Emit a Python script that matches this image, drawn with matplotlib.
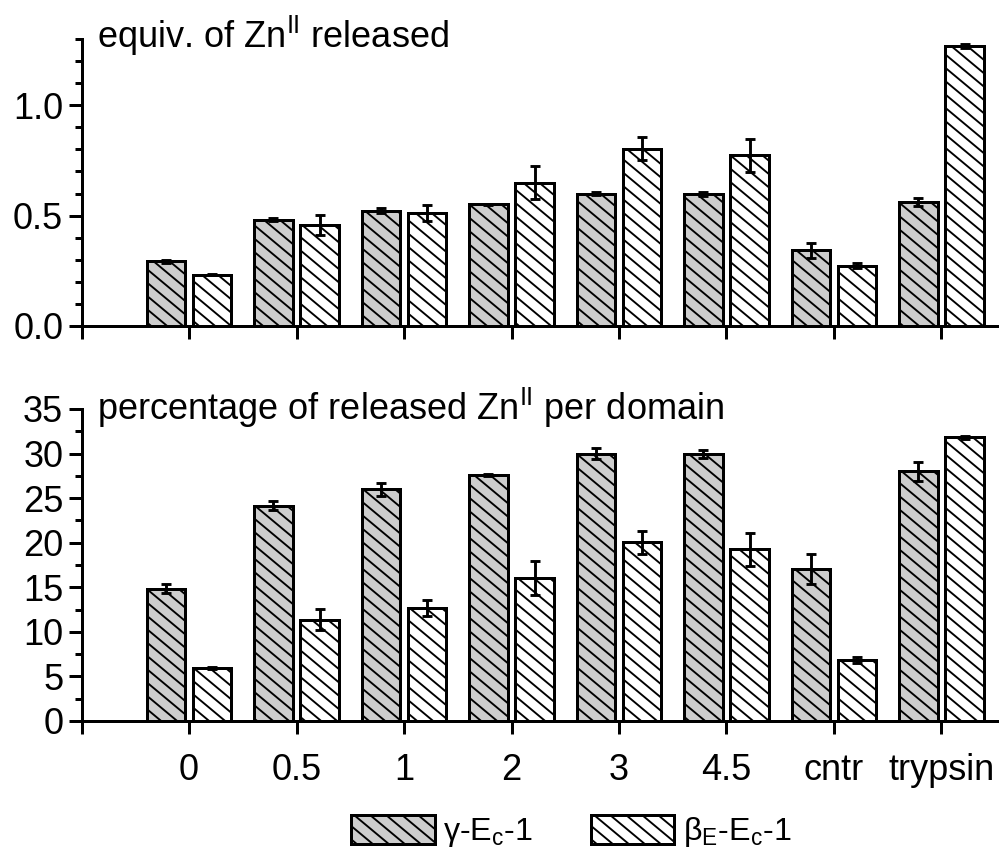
import matplotlib
matplotlib.use("Agg")
import matplotlib.pyplot as plt
import matplotlib.hatch as mhatch
from matplotlib.path import Path
from matplotlib.ticker import MultipleLocator, FormatStrFormatter, FixedLocator
import numpy as np

categories = ['0', '0.5', '1', '2', '3', '4.5', 'cntr', 'trypsin']
top_gamma = [0.293, 0.482, 0.523, 0.551, 0.600, 0.597, 0.342, 0.561]
top_gamma_err = [0.008, 0.007, 0.010, 0.003, 0.008, 0.008, 0.033, 0.018]
top_beta = [0.233, 0.457, 0.511, 0.649, 0.803, 0.774, 0.274, 1.268]
top_beta_err = [0.003, 0.045, 0.035, 0.075, 0.053, 0.075, 0.012, 0.008]
bot_gamma = [14.84, 24.13, 25.98, 27.6, 30.0, 29.94, 17.04, 28.0]
bot_gamma_err = [0.5, 0.5, 0.7, 0.1, 0.6, 0.45, 1.7, 1.1]
bot_beta = [5.9, 11.37, 12.72, 16.07, 20.06, 19.24, 6.82, 31.8]
bot_beta_err = [0.1, 1.2, 0.9, 1.9, 1.3, 1.9, 0.3, 0.2]
legend_labels = [r'γ-E$_\mathregular{c}$-1', r'β$_\mathregular{E}$-E$_\mathregular{c}$-1']
top_title = r'equiv. of Zn$^\mathregular{II}$ released'
bot_title = r'percentage of released Zn$^\mathregular{II}$ per domain'


# Shallower "\" hatch (slope m/n) that still tiles seamlessly
class ShallowSouthEastHatch(mhatch.HatchPatternBase):
    M = 5

    def __init__(self, hatch, density):
        self.n = int(hatch.count('\\') * density)
        if self.n:
            self.num_lines = self.n + self.M + 1
            self.num_vertices = self.num_lines * 2
        else:
            self.num_lines = 0
            self.num_vertices = 0

    def set_vertices_and_codes(self, vertices, codes):
        n, m = self.n, self.M
        c = np.arange(self.num_lines) / n
        vertices[0::2, 0] = 0.0
        vertices[0::2, 1] = c
        vertices[1::2, 0] = 1.0
        vertices[1::2, 1] = c - m / n
        codes[0::2] = Path.MOVETO
        codes[1::2] = Path.LINETO


mhatch._hatch_types = [ShallowSouthEastHatch if t is mhatch.SouthEastHatch else t
                       for t in mhatch._hatch_types]

DPI = 80
plt.rcParams['font.family'] = ['Liberation Sans', 'DejaVu Sans']
plt.rcParams['mathtext.fontset'] = 'custom'
plt.rcParams['mathtext.rm'] = 'Liberation Sans'
plt.rcParams['mathtext.it'] = 'Liberation Sans:italic'
plt.rcParams['hatch.linewidth'] = 1.7
FS = 32.5
LFS = 29
LW = 2.7

fig = plt.figure(figsize=(999 / DPI, 859 / DPI), dpi=DPI)
ax1 = fig.add_axes([0.0816, 0.6205, 0.9184, 0.3341])
ax2 = fig.add_axes([0.0816, 0.1607, 0.9184, 0.3632])

x = np.arange(1, len(categories) + 1)
w = 0.36
off = 0.215
gray = '#cdcdcd'
ekw = dict(ecolor='black', elinewidth=2.6, capsize=4.2, capthick=2.6, zorder=5)


def draw(ax, g, ge, b, be, ymax, major, minor, fmt, title, ytitle):
    bg = ax.bar(x - off, g, w, yerr=ge, color=gray, edgecolor='black',
                linewidth=LW, hatch='\\', error_kw=ekw, label=legend_labels[0])
    bb = ax.bar(x + off, b, w, yerr=be, color='white', edgecolor='black',
                linewidth=LW, hatch='\\', error_kw=ekw, label=legend_labels[1])
    ax.set_xlim(0, 8.535)
    ax.set_ylim(0, ymax)
    ax.spines['top'].set_visible(False)
    ax.spines['right'].set_visible(False)
    for s in ('left', 'bottom'):
        ax.spines[s].set_linewidth(LW)
    ax.yaxis.set_major_locator(MultipleLocator(major))
    ax.yaxis.set_minor_locator(MultipleLocator(minor))
    ax.yaxis.set_major_formatter(FormatStrFormatter(fmt))
    ax.xaxis.set_major_locator(FixedLocator(list(np.arange(0, len(categories) + 1))))
    ax.tick_params(axis='both', which='major', direction='out', length=11.5,
                   width=LW, labelsize=FS, pad=5)
    ax.tick_params(axis='y', which='minor', direction='out', length=6, width=LW)
    ax.text(0.0164, ytitle, title, transform=ax.transAxes, fontsize=FS,
            va='baseline', ha='left')
    return bg, bb


draw(ax1, top_gamma, top_gamma_err, top_beta, top_beta_err, 1.3, 0.5, 0.1,
     '%.1f', top_title, 0.969)
ax1.set_xticklabels([''] * (len(categories) + 1))
bg, bb = draw(ax2, bot_gamma, bot_gamma_err, bot_beta, bot_beta_err, 35, 5, 2.5,
              '%d', bot_title, 0.965)
ax2.set_xticklabels([''] + categories)
ax2.tick_params(axis='x', which='major', pad=17)

fig.legend(handles=[bg, bb], labels=legend_labels, loc='center',
           bbox_to_anchor=(0.5716, 0.0314), ncol=2, frameon=False,
           fontsize=LFS, handlelength=2.6, handleheight=1.05,
           handletextpad=0.25, columnspacing=1.8, borderpad=0)

fig.savefig('out.png', dpi=DPI)
